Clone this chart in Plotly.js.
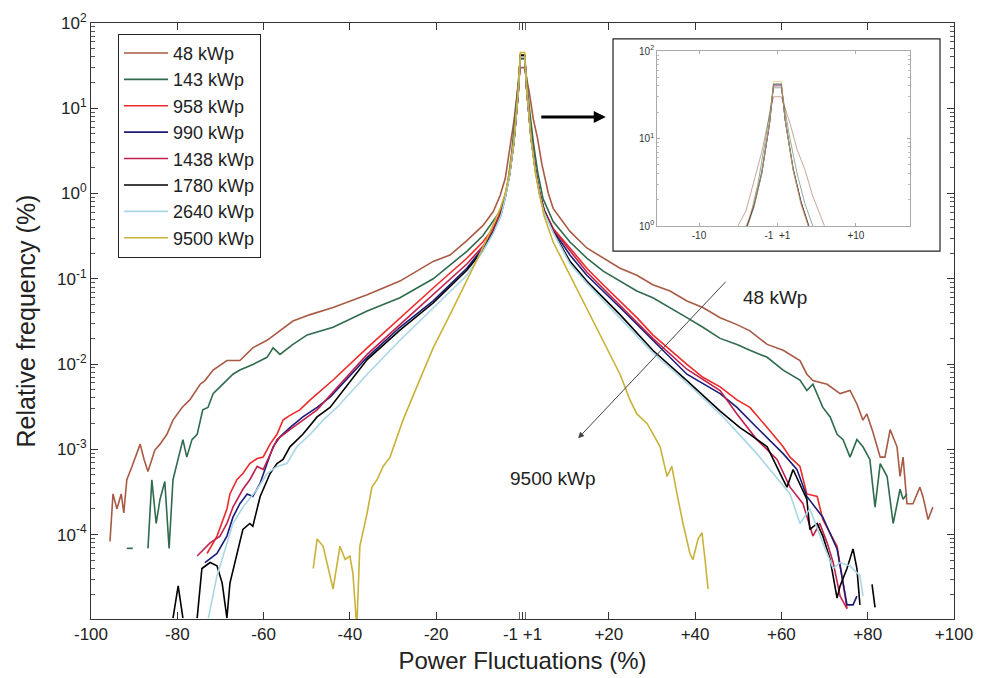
<!DOCTYPE html>
<html>
<head>
<meta charset="utf-8">
<script src="https://cdn.plot.ly/plotly-3.0.1.min.js"></script>
<style>html,body{margin:0;padding:0;background:#fff;}#chart{width:981px;height:678px;}</style>
</head>
<body>
<div id="chart"></div>
<script>
// ---- Data ----
const seriesNames = ["48 kWp","143 kWp","958 kWp","990 kWp","1438 kWp","1780 kWp","2640 kWp","9500 kWp"];

const x48 = [-95.6,-94.9,-94.0,-93.0,-92.4,-91.7,-90.5,-88.6,-87.7,-86.8,-85.2,-84.0,-82.4,-81.0,-78.9,-77.1,-74.7,-73.6,-71.7,-68.5,-65.5,-62.5,-59.2,-56.2,-53.2,-49.2,-43.9,-36.0,-28.4,-20.7,-16.8,-12.9,-9.2,-6.8,-5.2,-4.0,-3.0,-2.0,-1.3,-0.5,0.5,1.6,2.5,3.5,4.5,6.0,7.1,11.0,14.9,18.7,22.6,26.5,30.2,34.2,38.1,41.8,45.8,49.7,52.7,56.7,60.4,64.3,65.9,67.3,70.6,73.6,75.9,77.5,78.9,79.8,81.2,82.9,84.0,85.2,86.8,87.5,88.2,89.1,90.5,92.1,92.8,94.0,95.1];
const y48 = [8.3e-5,3.0e-4,2.0e-4,3.0e-4,1.8e-4,4.4e-4,6.3e-4,1.15e-3,7.6e-4,5.5e-4,9.8e-4,1.15e-3,1.5e-3,2.2e-3,3.1e-3,3.8e-3,5.8e-3,6.4e-3,8.5e-3,1.1e-2,1.1e-2,1.55e-2,1.9e-2,2.45e-2,3.2e-2,3.8e-2,4.6e-2,6.5e-2,9.4e-2,0.16,0.19,0.28,0.42,0.61,0.94,1.5,3.2,7,14,30,30,15,7.5,4.4,2.2,1.0,0.67,0.36,0.23,0.175,0.133,0.11,0.085,0.072,0.055,0.046,0.035,0.029,0.0245,0.017,0.0145,0.011,0.0076,0.0064,0.0058,0.0045,0.0049,0.0034,0.0022,0.0026,0.0016,8.1e-4,8.1e-4,1.7e-3,1.07e-3,4.8e-4,8.1e-4,2.3e-4,2.3e-4,3.6e-4,2.8e-4,1.5e-4,2.1e-4];

const x143 = [-91.7,-90.3,-89.0,-86.8,-85.9,-84.9,-84.0,-82.9,-81.9,-81.0,-79.8,-78.7,-77.8,-76.6,-75.4,-74.1,-72.9,-71.7,-70.1,-68.5,-67.1,-65.5,-62.5,-59.2,-57.8,-56.2,-53.2,-49.9,-43.9,-36.0,-28.4,-20.7,-16.8,-12.9,-9.2,-6.8,-5.2,-3.6,-2.5,-1.5,-0.5,0.5,1.5,2.5,3.5,4.75,7.1,11.0,14.9,18.7,22.6,26.5,30.2,34.2,38.1,41.8,45.8,49.7,52.7,56.7,60.4,64.3,65.9,67.3,69.6,71.3,72.9,74.3,75.9,77.5,78.9,80.5,81.7,82.9,84.5,85.9,87.5,88.2,89.1];
const y143 = [6.9e-5,6.9e-5,null,6.9e-5,4.4e-4,1.35e-4,2.6e-4,4.2e-4,6.9e-5,4.4e-4,7.6e-4,1.3e-3,8.1e-4,1.3e-3,1.5e-3,2.9e-3,3.1e-3,4.5e-3,5.4e-3,6.4e-3,7.6e-3,8.5e-3,9.9e-3,1.2e-2,1.55e-2,1.3e-2,1.7e-2,2.2e-2,2.7e-2,4.2e-2,6.0e-2,0.10,0.145,0.21,0.32,0.47,0.62,1.14,3.0,10,38,38,11,4.0,1.8,0.87,0.47,0.27,0.175,0.123,0.094,0.072,0.060,0.046,0.035,0.027,0.020,0.017,0.0145,0.012,0.0085,0.0065,0.0049,0.0058,0.0031,0.0024,0.0015,0.0013,8.1e-4,1.3e-3,1.07e-3,7.6e-4,2.1e-4,6.8e-4,4.8e-4,1.35e-4,3.4e-4,2.6e-4,3.0e-4];

const x958 = [-73.1,-70.8,-68.5,-67.8,-66.2,-64.8,-63.2,-61.5,-60.1,-58.5,-56.9,-55.5,-53.9,-51.6,-49.2,-43.9,-36.0,-28.4,-20.7,-12.9,-9.2,-6.8,-5.0,-4.0,-3.0,-2.0,-1.0,-0.5,0.5,1.0,2.0,3.0,4.0,5.0,7.1,11.0,14.9,18.7,22.6,26.5,30.2,34.2,38.1,41.8,45.8,49.7,52.7,56.7,60.4,62.0,64.3,65.9,68.3,69.6,71.3,72.9,74.3,75.2];
const y958 = [6.0e-5,9.6e-5,2.0e-4,3.0e-4,4.4e-4,5.2e-4,6.8e-4,7.8e-4,8.1e-4,1.15e-3,1.5e-3,2.2e-3,2.5e-3,2.9e-3,3.8e-3,6.5e-3,1.55e-2,0.035,0.078,0.174,0.27,0.39,0.62,0.95,1.7,4.0,15,40,40,16,4.5,1.9,1.0,0.65,0.39,0.23,0.133,0.085,0.055,0.035,0.022,0.0145,0.0099,0.007,0.0054,0.0038,0.0031,0.0018,1.07e-3,8.1e-4,6.3e-4,3.0e-4,2.8e-4,1.5e-4,1.05e-4,7.3e-5,2.7e-5,1.35e-5];

const x990 = [-73.6,-70.8,-68.5,-67.1,-65.5,-63.8,-62.5,-60.8,-59.2,-57.8,-56.2,-53.9,-50.9,-47.6,-44.6,-36.0,-28.4,-20.7,-12.9,-9.2,-6.8,-5.0,-4.0,-3.0,-2.0,-1.0,-0.5,0.5,1.0,2.0,3.0,4.0,5.0,7.1,11.0,14.9,22.6,30.2,38.1,45.8,49.7,54.3,60.4,63.6,65.9,69.6,71.3,72.9,74.3,75.2,76.6,77.5];
const y990 = [4.7e-5,6.0e-5,9.6e-5,1.6e-4,2.3e-4,3.0e-4,2.8e-4,4.0e-4,6.8e-4,1.07e-3,1.4e-3,1.8e-3,2.4e-3,3.1e-3,4.1e-3,0.012,0.027,0.055,0.133,0.23,0.36,0.58,0.92,1.7,4.1,15,41,41,16,4.6,1.9,1.0,0.64,0.37,0.19,0.11,0.046,0.019,0.0076,0.0045,0.0031,0.0018,8.9e-4,5.8e-4,2.8e-4,1.6e-4,1.05e-4,6.8e-5,2.7e-5,1.5e-5,1.5e-5,1.9e-5];

const x1438 = [-75.4,-72.4,-70.1,-68.5,-67.1,-64.8,-63.2,-61.5,-60.1,-58.5,-56.9,-53.9,-50.9,-47.6,-43.9,-36.0,-28.4,-20.7,-12.9,-9.2,-6.8,-5.0,-4.0,-3.0,-2.0,-1.0,-0.5,0.5,1.0,2.0,3.0,4.0,5.0,7.1,11.0,14.9,22.6,30.2,38.1,45.8,49.7,54.3,59.0,62.0,65.0,67.3,68.9,70.6,72.0,73.6,75.2];
const y1438 = [5.6e-5,8.0e-5,9.6e-5,1.35e-4,2.1e-4,3.4e-4,4.4e-4,6.3e-4,5.8e-4,8.9e-4,1.3e-3,1.7e-3,2.2e-3,2.9e-3,4.7e-3,0.013,0.029,0.065,0.149,0.24,0.37,0.6,0.93,1.7,4.0,15,40,40,16,4.5,1.9,1.0,0.64,0.38,0.21,0.12,0.049,0.020,0.0087,0.0049,0.0026,1.3e-3,7.6e-4,3.6e-4,2.3e-4,9.6e-5,1.35e-4,8.0e-5,4.7e-5,1.9e-5,1.35e-5];

const x1780 = [-81.0,-79.8,-78.7,-77.0,-75.4,-74.3,-72.4,-70.8,-69.6,-68.5,-67.8,-66.2,-64.8,-63.2,-62.5,-60.8,-58.5,-56.9,-55.5,-53.9,-50.9,-47.6,-44.6,-36.0,-28.4,-20.7,-12.9,-9.2,-6.8,-5.0,-4.0,-3.0,-2.0,-1.0,-0.5,0.5,1.0,2.0,3.0,4.0,5.0,7.1,11.0,14.9,22.6,30.2,38.1,45.8,50.4,52.7,56.7,60.4,61.3,62.7,65.9,66.6,68.3,69.6,71.3,72.9,73.6,75.2,76.6,77.5,78.2,79.5,81.0,81.7];
const y1780 = [1.05e-5,2.5e-5,1.05e-5,null,1.05e-5,4.0e-5,4.7e-5,4.3e-5,2.7e-5,1.05e-5,2.7e-5,6.0e-5,1.15e-4,1.35e-4,1.25e-4,2.8e-4,5.2e-4,6.8e-4,7.6e-4,1.07e-3,1.5e-3,2.4e-3,3.1e-3,0.0113,0.025,0.052,0.126,0.215,0.35,0.56,0.9,1.65,4.0,15,42,42,16,4.4,1.85,0.97,0.62,0.36,0.16,0.094,0.038,0.0145,0.0064,0.0028,0.0018,1.5e-3,1.07e-3,4.4e-4,3.6e-4,5.8e-4,2.6e-4,1.15e-4,1.35e-4,9.6e-5,5.1e-5,1.8e-5,2.5e-5,4.0e-5,6.8e-5,4.0e-5,1.5e-5,null,2.6e-5,1.4e-5];

const x2640 = [-72.8,-70.8,-69.4,-67.1,-64.8,-61.5,-59.2,-56.9,-54.6,-52.3,-49.2,-46.2,-43.0,-36.0,-28.4,-20.7,-12.9,-9.2,-6.8,-5.0,-4.0,-3.0,-2.0,-1.0,-0.5,0.5,1.0,2.0,3.0,4.0,5.0,7.1,11.0,14.9,22.6,30.2,38.1,46.5,54.3,58.1,62.0,64.3,66.6,69.6,72.0,73.6,75.9,78.2,78.9];
const y2640 = [1.05e-5,3.3e-5,5.6e-5,1.35e-4,2.1e-4,3.4e-4,5.2e-4,6.3e-4,6.8e-4,1.07e-3,1.5e-3,2.2e-3,3.1e-3,7.6e-3,0.019,0.046,0.11,0.21,0.34,0.55,0.88,1.6,3.9,15,40,40,16,4.3,1.8,0.95,0.6,0.35,0.15,0.089,0.035,0.0136,0.006,0.0024,8.9e-4,5.2e-4,3.0e-4,1.35e-4,2.0e-4,8.0e-5,4.0e-5,4.7e-5,4.3e-5,3.3e-5,1.9e-5];

const x9500 = [-48.5,-47.6,-46.2,-45.1,-43.9,-42.3,-41.1,-40.0,-39.3,-38.4,-37.7,-36.0,-34.9,-33.7,-32.3,-30.7,-29.1,-27.7,-24.5,-20.7,-16.8,-12.9,-9.2,-5.2,-4.0,-3.0,-2.0,-1.0,-0.5,0.5,1.0,2.0,3.0,4.0,5.0,7.1,11.0,14.9,18.7,22.6,24.9,26.5,28.9,30.2,31.9,33.5,34.6,35.8,37.2,38.8,39.5,40.7,41.6,42.3,43.0];
const y9500 = [4.0e-5,8.9e-5,7.3e-5,4.3e-5,2.3e-5,7.3e-5,5.1e-5,5.6e-5,3.5e-5,8e-6,7.3e-5,1.8e-4,3.6e-4,4.4e-4,6.3e-4,8.1e-4,1.4e-3,2.2e-3,5.4e-3,0.0155,0.038,0.094,0.23,0.66,1.0,1.8,4.3,16,45,45,17,4.4,1.75,0.95,0.55,0.27,0.11,0.046,0.019,0.0076,0.0038,0.0026,0.002,0.0015,1.07e-3,4.8e-4,6.3e-4,3.0e-4,1.35e-4,6.0e-5,5.1e-5,8.9e-5,1.05e-4,5.1e-5,2.3e-5];

const xTickVals = [-100,-80,-60,-40,-20,0,20,40,60,80,100];
const xTickText = ["-100","-80","-60","-40","-20","-1 +1","+20","+40","+60","+80","+100"];
const yTickVals = [1e-4,1e-3,1e-2,1e-1,1,10,100];
const yTickText = ["10<sup>-4</sup>","10<sup>-3</sup>","10<sup>-2</sup>","10<sup>-1</sup>","10<sup>0</sup>","10<sup>1</sup>","10<sup>2</sup>"];
const insetXTickVals = [-10,0,10];
const insetXTickText = ["-10","-1  +1","+10"];
const insetYTickVals = [1,10,100];
const insetYTickText = ["10<sup>0</sup>","10<sup>1</sup>","10<sup>2</sup>"];

// ---- Styling ----
const colors = ["#a85a45","#2f6b4c","#ee2a2a","#1c1c78","#c2214e","#000000","#a9d6e6","#c9b23a"];
const xs = [x48,x143,x958,x990,x1438,x1780,x2640,x9500];
const ys = [y48,y143,y958,y990,y1438,y1780,y2640,y9500];

const traces = [];
for (let i = 0; i < seriesNames.length; i++) {
  traces.push({
    type: "scatter", mode: "lines", name: seriesNames[i],
    x: xs[i], y: ys[i], connectgaps: false,
    line: {color: colors[i], width: 1.6},
    xaxis: "x", yaxis: "y", hoverinfo: "skip"
  });
}
for (let i = 0; i < seriesNames.length; i++) {
  traces.push({
    type: "scatter", mode: "lines", name: seriesNames[i], showlegend: false,
    x: xs[i], y: ys[i], connectgaps: false, opacity: 0.55,
    line: {color: colors[i], width: 1},
    xaxis: "x2", yaxis: "y2", hoverinfo: "skip"
  });
}

// minor tick positions on log axis (styling)
const minorY = [];
for (let d = -5; d < 2; d++) for (let k = 2; k <= 9; k++) minorY.push(k * Math.pow(10, d));
const minorInset = [];
for (let d = 0; d < 2; d++) for (let k = 2; k <= 9; k++) minorInset.push(k * Math.pow(10, d));

const FONT = "Liberation Sans, Arial, Helvetica, sans-serif";

const layout = {
  width: 981, height: 678,
  margin: {l: 91, r: 27, t: 23, b: 59},
  paper_bgcolor: "#fff", plot_bgcolor: "#fff",
  font: {family: FONT, color: "#222"},
  showlegend: true,
  legend: {
    x: 0.0313, y: 0.982, xanchor: "left", yanchor: "top",
    bgcolor: "#fff", bordercolor: "#222", borderwidth: 1,
    font: {size: 18, family: FONT, color: "#222"},
    itemwidth: 44, traceorder: "normal"
  },
  xaxis: {
    domain: [0, 1], range: [-100, 100], showgrid: false, zeroline: false,
    tickmode: "array", tickvals: xTickVals, ticktext: xTickText,
    ticks: "inside", ticklen: 7, tickcolor: "#333",
    showline: true, linecolor: "#333", linewidth: 1, mirror: "ticks",
    tickfont: {size: 17, family: FONT, color: "#222"},
    minor: {tickmode: "array", tickvals: [-0.7, 0.7], ticks: "inside", ticklen: 7, tickcolor: "#666"},
    title: {text: "Power Fluctuations (%)", font: {size: 24, family: FONT, color: "#222"}, standoff: 8},
    anchor: "y"
  },
  yaxis: {
    type: "log", range: [-4.99, 2], showgrid: false, zeroline: false,
    tickmode: "array", tickvals: yTickVals, ticktext: yTickText,
    ticks: "inside", ticklen: 7, tickcolor: "#333",
    showline: true, linecolor: "#333", linewidth: 1, mirror: "ticks",
    tickfont: {size: 17, family: FONT, color: "#222"},
    minor: {tickmode: "array", tickvals: minorY, ticks: "inside", ticklen: 4, tickcolor: "#555"},
    title: {text: "Relative frequency (%)", font: {size: 25, family: FONT, color: "#222"}, standoff: 14},
    anchor: "x"
  },
  xaxis2: {
    domain: [0.6559, 0.949], range: [-15.35, 16.9], anchor: "y2",
    showgrid: false, zeroline: false,
    tickmode: "array", tickvals: insetXTickVals, ticktext: insetXTickText,
    ticks: "inside", ticklen: 3, tickcolor: "#aaa",
    showline: true, linecolor: "#aaa", linewidth: 1, mirror: "ticks",
    tickfont: {size: 10, family: FONT, color: "#333"}
  },
  yaxis2: {
    domain: [0.6594, 0.953], type: "log", range: [0, 2], anchor: "x2",
    showgrid: false, zeroline: false,
    tickmode: "array", tickvals: insetYTickVals, ticktext: insetYTickText,
    ticks: "inside", ticklen: 3, tickcolor: "#aaa",
    showline: true, linecolor: "#aaa", linewidth: 1, mirror: "ticks",
    tickfont: {size: 10, family: FONT, color: "#333"},
    minor: {tickmode: "array", tickvals: minorInset, ticks: "inside", ticklen: 2, tickcolor: "#bbb"}
  },
  shapes: [
    {type: "rect", xref: "paper", yref: "paper", x0: 0.6049, x1: 0.9838, y0: 0.6174, y1: 0.9732,
     line: {color: "#222", width: 1.2}, fillcolor: "rgba(0,0,0,0)", layer: "below"}
  ],
  annotations: [
    {xref: "x", yref: "y", x: 12.9, y: -2.87, ax: 149, ay: -158, text: "", showarrow: true,
     arrowhead: 2, arrowsize: 1.2, arrowwidth: 1, arrowcolor: "#444"},
    {xref: "x", yref: "y", x: 19.3, y: 0.897, ax: -66, ay: 0, text: "", showarrow: true,
     arrowhead: 2, arrowsize: 0.8, arrowwidth: 3, arrowcolor: "#000"},
    {xref: "x", yref: "y", x: 58.5, y: -1.22, text: "48 kWp", showarrow: false,
     font: {size: 19, family: FONT, color: "#222"}},
    {xref: "x", yref: "y", x: 7.0, y: -3.34, text: "9500 kWp", showarrow: false,
     font: {size: 19, family: FONT, color: "#222"}}
  ]
};

Plotly.newPlot("chart", traces, layout, {displayModeBar: false, staticPlot: true});
</script>
</body>
</html>
